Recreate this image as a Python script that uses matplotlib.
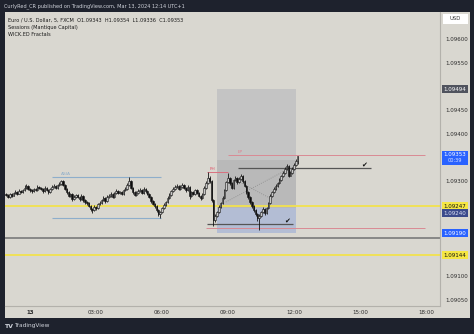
import matplotlib
matplotlib.use("Agg")
import matplotlib.pyplot as plt
from matplotlib.patches import Rectangle
from matplotlib.transforms import blended_transform_factory

# ---------------- data (EURUSD 5-minute bars, 12 Mar 22:55 -> 13 Mar 12:10) ----------------
first_open = 1.09272
closes = [1.09271, 1.09267, 1.09273, 1.09269, 1.09275, 1.09277, 1.09273, 1.09279, 1.09277, 1.09281,
          1.09286, 1.09290, 1.09283, 1.09281, 1.09279, 1.09283, 1.09281, 1.09288, 1.09286, 1.09283,
          1.09279, 1.09286, 1.09281, 1.09277, 1.09283, 1.09288, 1.09290, 1.09286, 1.09292, 1.09294,
          1.09300, 1.09292, 1.09283, 1.09277, 1.09269, 1.09273, 1.09262, 1.09267, 1.09271, 1.09267,
          1.09262, 1.09269, 1.09260, 1.09256, 1.09254, 1.09248, 1.09241, 1.09239, 1.09246, 1.09243,
          1.09252, 1.09254, 1.09260, 1.09265, 1.09258, 1.09267, 1.09269, 1.09273, 1.09267, 1.09275,
          1.09279, 1.09275, 1.09277, 1.09273, 1.09281, 1.09283, 1.09292, 1.09300, 1.09286, 1.09277,
          1.09271, 1.09275, 1.09279, 1.09281, 1.09275, 1.09283, 1.09279, 1.09273, 1.09267, 1.09258,
          1.09252, 1.09248, 1.09239, 1.09231, 1.09235, 1.09243, 1.09250, 1.09256, 1.09265, 1.09271,
          1.09279, 1.09283, 1.09288, 1.09290, 1.09283, 1.09288, 1.09292, 1.09286, 1.09281, 1.09288,
          1.09269, 1.09277, 1.09273, 1.09281, 1.09275, 1.09269, 1.09265, 1.09273, 1.09286, 1.09296,
          1.09307, 1.09300, 1.09260, 1.09218, 1.09227, 1.09235, 1.09246, 1.09254, 1.09265, 1.09281,
          1.09298, 1.09307, 1.09296, 1.09286, 1.09302, 1.09307, 1.09298, 1.09305, 1.09311, 1.09300,
          1.09290, 1.09277, 1.09267, 1.09256, 1.09248, 1.09239, 1.09231, 1.09222, 1.09227, 1.09235,
          1.09241, 1.09233, 1.09243, 1.09254, 1.09269, 1.09277, 1.09283, 1.09290, 1.09296, 1.09302,
          1.09311, 1.09317, 1.09326, 1.09332, 1.09312, 1.09318, 1.09326, 1.09335, 1.09343, 1.09353]
highs = [1.09275, 1.09273, 1.09276, 1.09275, 1.09278, 1.09281, 1.09279, 1.09283, 1.09281, 1.09284,
         1.09292, 1.09294, 1.09292, 1.09285, 1.09283, 1.09286, 1.09285, 1.09291, 1.09290, 1.09288,
         1.09285, 1.09289, 1.09288, 1.09283, 1.09286, 1.09292, 1.09294, 1.09292, 1.09295, 1.09298,
         1.09303, 1.09302, 1.09294, 1.09285, 1.09279, 1.09276, 1.09275, 1.09270, 1.09274, 1.09273,
         1.09269, 1.09272, 1.09271, 1.09262, 1.09259, 1.09256, 1.09250, 1.09244, 1.09249, 1.09248,
         1.09255, 1.09258, 1.09263, 1.09268, 1.09267, 1.09270, 1.09273, 1.09277, 1.09275, 1.09278,
         1.09283, 1.09281, 1.09280, 1.09279, 1.09284, 1.09287, 1.09297, 1.09309, 1.09302, 1.09288,
         1.09279, 1.09279, 1.09283, 1.09286, 1.09283, 1.09287, 1.09285, 1.09281, 1.09275, 1.09269,
         1.09260, 1.09255, 1.09250, 1.09241, 1.09238, 1.09246, 1.09253, 1.09259, 1.09268, 1.09275,
         1.09282, 1.09287, 1.09292, 1.09295, 1.09292, 1.09291, 1.09296, 1.09294, 1.09288, 1.09291,
         1.09290, 1.09280, 1.09279, 1.09284, 1.09283, 1.09277, 1.09271, 1.09276, 1.09289, 1.09300,
         1.09319, 1.09310, 1.09302, 1.09262, 1.09231, 1.09238, 1.09249, 1.09257, 1.09268, 1.09284,
         1.09301, 1.09317, 1.09309, 1.09298, 1.09305, 1.09312, 1.09309, 1.09308, 1.09316, 1.09313,
         1.09302, 1.09292, 1.09279, 1.09269, 1.09258, 1.09250, 1.09241, 1.09233, 1.09231, 1.09238,
         1.09245, 1.09243, 1.09246, 1.09257, 1.09272, 1.09280, 1.09287, 1.09294, 1.09299, 1.09306,
         1.09314, 1.09321, 1.09330, 1.09336, 1.09334, 1.09322, 1.09329, 1.09338, 1.09346, 1.09354]
lows = [1.09268, 1.09264, 1.09265, 1.09266, 1.09268, 1.09273, 1.09271, 1.09272, 1.09275, 1.09276,
        1.09279, 1.09284, 1.09281, 1.09278, 1.09276, 1.09277, 1.09279, 1.09280, 1.09283, 1.09281,
        1.09275, 1.09277, 1.09279, 1.09273, 1.09275, 1.09281, 1.09286, 1.09283, 1.09284, 1.09290,
        1.09292, 1.09290, 1.09281, 1.09274, 1.09266, 1.09267, 1.09259, 1.09260, 1.09265, 1.09264,
        1.09259, 1.09260, 1.09257, 1.09252, 1.09250, 1.09245, 1.09237, 1.09233, 1.09237, 1.09239,
        1.09241, 1.09250, 1.09252, 1.09258, 1.09255, 1.09256, 1.09264, 1.09267, 1.09264, 1.09265,
        1.09273, 1.09272, 1.09273, 1.09270, 1.09271, 1.09279, 1.09281, 1.09290, 1.09283, 1.09274,
        1.09268, 1.09269, 1.09273, 1.09277, 1.09272, 1.09273, 1.09276, 1.09270, 1.09264, 1.09255,
        1.09249, 1.09244, 1.09235, 1.09226, 1.09222, 1.09233, 1.09241, 1.09248, 1.09254, 1.09263,
        1.09269, 1.09277, 1.09281, 1.09286, 1.09281, 1.09281, 1.09286, 1.09284, 1.09278, 1.09279,
        1.09262, 1.09267, 1.09270, 1.09271, 1.09272, 1.09266, 1.09261, 1.09263, 1.09271, 1.09284,
        1.09294, 1.09297, 1.09256, 1.09205, 1.09214, 1.09224, 1.09232, 1.09243, 1.09251, 1.09262,
        1.09279, 1.09296, 1.09293, 1.09283, 1.09284, 1.09300, 1.09295, 1.09296, 1.09303, 1.09297,
        1.09287, 1.09274, 1.09263, 1.09252, 1.09244, 1.09234, 1.09226, 1.09215, 1.09196, 1.09224,
        1.09232, 1.09229, 1.09231, 1.09241, 1.09252, 1.09266, 1.09275, 1.09281, 1.09288, 1.09294,
        1.09300, 1.09309, 1.09315, 1.09324, 1.09309, 1.09310, 1.09316, 1.09324, 1.09333, 1.09336]

start_hour = -65 / 60.0        # first bar at 22:55 of the previous day
bar_minutes = 5

time_ticks = [0, 3, 6, 9, 12, 15, 18]
time_labels = ["13", "03:00", "06:00", "09:00", "12:00", "15:00", "18:00"]
price_ticks = [1.09050, 1.09100, 1.09300, 1.09400, 1.09450, 1.09550, 1.09600]

# session / annotation levels
asia_high, asia_low = 1.09309, 1.09222
asia_start, asia_end = 1.0, 5.95
box_start, box_end = 8.5, 12.1
box_top, box_mid_top, box_mid_bot, box_bottom = 1.09494, 1.09345, 1.09243, 1.09190
lp_level = 1.09355
fh_level = 1.09319
swept_high = 1.09328
swept_low = 1.09210
red_low = 1.09201
yellow_levels = [1.09247, 1.09144]
gray_level = 1.09180

# right-axis labels: (price, text, face, text colour)
axis_labels = [
    (1.09494, "1.09494", "#50535e", "#ffffff"),
    (1.09247, "1.09247", "#f5e642", "#111111"),
    (1.09240, "1.09240", "#3b4a8c", "#dfe3f5"),
    (1.09190, "1.09190", "#2962ff", "#ffffff"),
    (1.09144, "1.09144", "#f5e642", "#111111"),
]
last_price_text = "1.09353"
countdown_text = "00:39"

# ---------------- figure ----------------
W, H, DPI = 474, 334, 100
BG = "#1e222d"
PANEL = "#d9d7d0"
fig = plt.figure(figsize=(W / DPI, H / DPI), dpi=DPI, facecolor=BG)

def fx(px):
    return px / W

def fy(py):
    return 1 - py / H

# panels for price axis and time axis
fig.add_artist(Rectangle((fx(5), fy(318)), fx(465), 306 / H, transform=fig.transFigure,
                         facecolor=PANEL, edgecolor="none", zorder=0))
ax = fig.add_axes([fx(5), fy(306), fx(435), 294 / H])
ax.set_facecolor(PANEL)

px_per_price = 23.7 / 0.0005
ax.set_ylim(1.096 - (306 - 39) / px_per_price, 1.096 + (39 - 12) / px_per_price)
ax.set_xlim((5 - 30) / 22.0, (440 - 30) / 22.0)

for s in ["top", "left"]:
    ax.spines[s].set_visible(False)
for s in ["right", "bottom"]:
    ax.spines[s].set_color("#b3b1ab")
    ax.spines[s].set_linewidth(0.8)

# ---------------- candles ----------------
n = len(closes)
times = [start_hour + i * bar_minutes / 60.0 for i in range(n)]
opens = [first_open] + closes[:-1]
bw = bar_minutes / 60.0 * 0.78
for t, o, h, l, c in zip(times, opens, highs, lows, closes):
    bull = c >= o
    ax.vlines(t, l, h, color="#151515", linewidth=0.6, zorder=4)
    bottom = min(o, c)
    height = max(abs(c - o), 0.000015)
    ax.add_patch(Rectangle((t - bw / 2, bottom), bw, height,
                           facecolor="#c8c8c8" if bull else "#0d0d0d",
                           edgecolor="#151515", linewidth=0.4, zorder=5))

# ---------------- session box ----------------
ax.add_patch(Rectangle((box_start, box_mid_top), box_end - box_start, box_top - box_mid_top,
                       facecolor="#c4c4c4", edgecolor="none", zorder=1))
ax.add_patch(Rectangle((box_start, box_mid_bot), box_end - box_start, box_mid_top - box_mid_bot,
                       facecolor="#b9b9b9", edgecolor="none", zorder=1))
ax.add_patch(Rectangle((box_start, box_bottom), box_end - box_start, box_mid_bot - box_bottom,
                       facecolor="#b3bdd4", edgecolor="none", zorder=1))

# dotted guides inside the box
ax.plot([8.9, 11.75], [1.09256, 1.09326], color="#8a8a8a", linestyle=":", linewidth=0.6, zorder=3)
ax.plot([9.45, 11.0], [1.09300, 1.09262], color="#8a8a8a", linestyle=":", linewidth=0.6, zorder=3)

# ---------------- Asia range ----------------
ax.hlines([asia_high, asia_low], asia_start, asia_end, color="#8eaecb", linewidth=0.8, zorder=2)
ax.text(asia_start + 0.4, asia_high + 0.000025, "ASIA", color="#8eaecb", fontsize=3.2,
        ha="left", va="bottom", zorder=6)

# ---------------- levels ----------------
ax.axhline(gray_level, color="#7a7a7a", linewidth=1.2, zorder=2)
for lv in yellow_levels:
    ax.axhline(lv, color="#f3e24a", linewidth=1.4, alpha=0.9, zorder=2)

ax.hlines(lp_level, 9.0, 17.95, color="#d98a94", linewidth=0.7, zorder=3)
ax.text(9.55, lp_level + 0.00002, "LP", color="#e07a8a", fontsize=3.2, ha="center", va="bottom", zorder=6)
ax.hlines(fh_level, 8.05, 9.0, color="#d9707f", linewidth=0.7, zorder=3)
ax.text(8.3, fh_level + 0.00002, "FH", color="#e0566a", fontsize=3.2, ha="center", va="bottom", zorder=6)
ax.hlines(swept_high, 9.45, 15.5, color="#555555", linewidth=0.9, zorder=3)
ax.text(15.2, swept_high + 0.00001, "\u2714", color="#111111", fontsize=5, ha="center", va="bottom", zorder=6)
ax.hlines(red_low, 8.0, 17.95, color="#d98a94", linewidth=0.7, zorder=3)
ax.hlines(swept_low, 8.05, 11.95, color="#555555", linewidth=0.9, zorder=3)
ax.text(11.7, swept_low + 0.00001, "\u2714", color="#111111", fontsize=5, ha="center", va="bottom", zorder=6)

# ---------------- axes ticks ----------------
ax.yaxis.tick_right()
ax.set_yticks(price_ticks)
ax.set_yticklabels([f"{p:.5f}" for p in price_ticks])
ax.tick_params(axis="y", length=0, pad=4, labelsize=4, labelcolor="#2b2b2b")
ax.set_xticks(time_ticks)
ax.set_xticklabels(time_labels)
ax.tick_params(axis="x", length=0, pad=3, labelsize=4, labelcolor="#2b2b2b")
ax.get_xticklabels()[0].set_fontweight("bold")

# ---------------- right-axis coloured labels ----------------
blend = blended_transform_factory(fig.transFigure, ax.transData)
lab_h = 8 / px_per_price
for price, txt, fc, tc in axis_labels:
    yc = price
    if txt == "1.09240":
        yc = price - 3.5 / px_per_price
    fig.add_artist(Rectangle((fx(442), yc - lab_h / 2), fx(26), lab_h, transform=blend,
                             facecolor=fc, edgecolor="none", zorder=8))
    fig.text(fx(455), yc, txt, transform=blend, color=tc, fontsize=4, ha="center",
             va="center", zorder=9)

last = closes[-1]
fig.add_artist(Rectangle((fx(442), last - 8.5 / px_per_price), fx(26), 14 / px_per_price,
                         transform=blend, facecolor="#2962ff", edgecolor="none", zorder=8))
fig.text(fx(455), last + 1.5 / px_per_price, last_price_text, transform=blend, color="#ffffff",
         fontsize=4, ha="center", va="center", zorder=9)
fig.text(fx(455), last - 4.5 / px_per_price, countdown_text, transform=blend, color="#dfe6ff",
         fontsize=3.6, ha="center", va="center", zorder=9)

# USD box
fig.add_artist(Rectangle((fx(443), fy(24)), fx(25), 10 / H, transform=fig.transFigure,
                         facecolor="#ffffff", edgecolor="none", zorder=8))
fig.text(fx(455.5), fy(19), "USD", color="#333333", fontsize=3.8, ha="center", va="center", zorder=9)

# ---------------- texts ----------------
fig.text(fx(4), fy(6.5), "CurlyRed_CR published on TradingView.com, Mar 13, 2024 12:14 UTC+1",
         color="#d1d4dc", fontsize=3.6, ha="left", va="center")
legend_lines = ["Euro / U.S. Dollar, 5, FXCM  O1.09343  H1.09354  L1.09336  C1.09353",
                "Sessions (Mantique Capital)",
                "WICK.ED Fractals"]
for k, line in enumerate(legend_lines):
    fig.text(fx(8), fy(20 + 7 * k), line, color="#1a1a1a", fontsize=3.6, ha="left", va="center")

fig.text(fx(4), fy(326), "TV", color="#d1d4dc", fontsize=4.5, fontweight="bold", ha="left", va="center")
fig.text(fx(14.5), fy(326), "TradingView", color="#d1d4dc", fontsize=4.2, ha="left", va="center")

fig.savefig("out.png", dpi=DPI, facecolor=BG)
